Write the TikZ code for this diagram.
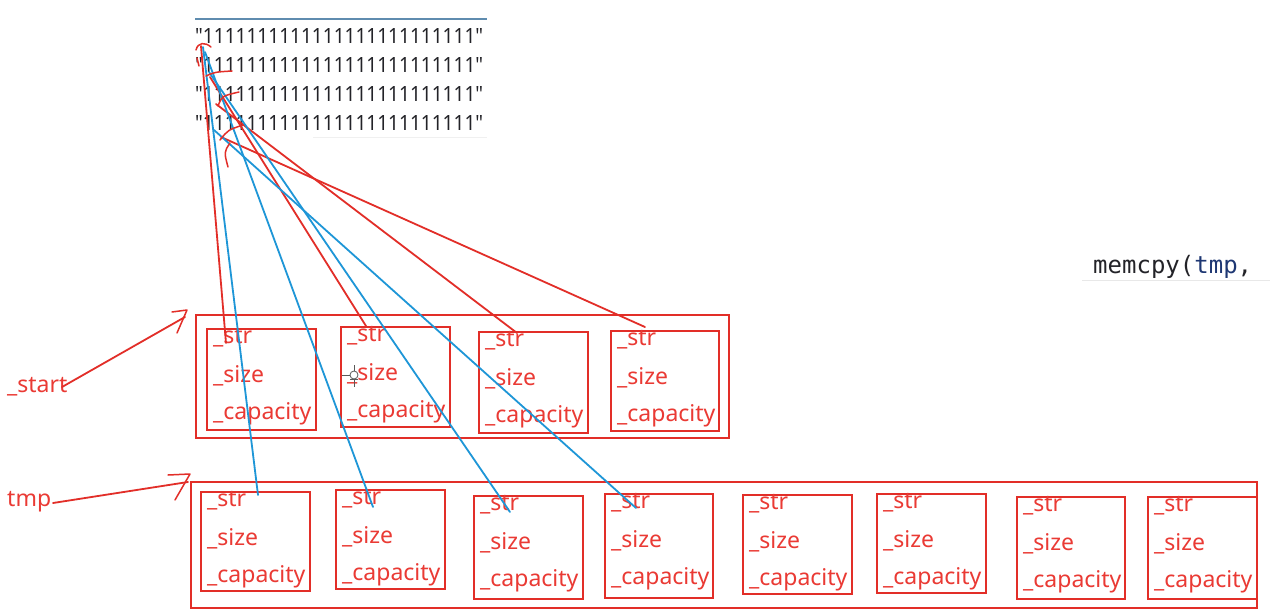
\documentclass[tikz,border=0pt]{standalone}
\usepackage{fontspec}
\usepackage{graphicx}
\setmainfont{Noto Sans}
\newfontfamily\strfont[Ligatures=TeXOff]{Noto Sans}
\newfontfamily\codefont{DejaVu Sans Mono}
\definecolor{redline}{RGB}{226,46,40}
\definecolor{redtext}{RGB}{234,58,52}
\definecolor{blueline}{RGB}{30,150,215}
\definecolor{topline}{RGB}{95,140,175}
\definecolor{codeblue}{RGB}{30,55,115}
\definecolor{strtext}{RGB}{35,35,40}
\newcommand\fieldbox[5]{%
  \node[fbox, minimum width=#4pt, minimum height=#5pt] (#1) at (#2,#3) {};
  \node[field] (#1s) at (#2+7,#3+15) {\_str};
  \node[field] (#1z) at (#2+7,#3+54) {\_size};
  \node[field] (#1c) at (#2+7,#3+91) {\_capacity};
}
\newcommand\onesline{{\strfont "1111111111111111111111111"}}
\begin{document}
\begin{tikzpicture}[x=1pt,y=-1pt,
  fbox/.style={draw=redline, line width=2.2pt, inner sep=0pt, anchor=north west},
  outer/.style={draw=redline, line width=2.2pt, inner sep=0pt, anchor=north west},
  field/.style={text=redtext, font=\fontsize{23}{23}\selectfont, anchor=base west, inner sep=0pt},
  lbl/.style={text=redtext, font=\fontsize{23}{23}\selectfont, anchor=base west, inner sep=0pt},
  strnode/.style={text=strtext, anchor=base west, inner sep=0pt},
  redl/.style={draw=redline, line width=1.8pt, line cap=round},
  bluel/.style={draw=blueline, line width=1.8pt, line cap=round},
  hook/.style={draw=redline, line width=1.5pt, line cap=round, line join=round}]
\fill[white] (0,0) rectangle (1270,615);
\useasboundingbox (0,0) rectangle (1270,615);

% top strings
\draw[topline, line width=2pt] (195,19) -- (487,19);
\node[strnode] (s1) at (195,44) {\resizebox{288pt}{15pt}{\onesline}};
\node[strnode] (s2) at (195,73) {\resizebox{288pt}{15pt}{\onesline}};
\node[strnode] (s3) at (195,102) {\resizebox{288pt}{15pt}{\onesline}};
\node[strnode] (s4) at (195,131) {\resizebox{288pt}{15pt}{\onesline}};
\draw[gray!12, line width=1pt] (313,138) -- (487,138);

% memcpy
\draw[gray!18, line width=1pt] (1082,280) -- (1270,280);
\node[anchor=base west, inner sep=0pt, text=strtext, font=\codefont\fontsize{24}{24}\selectfont] (mc) at (1093,273) {memcpy(\textcolor{codeblue}{tmp},};

% _start container
\node[outer, minimum width=533pt, minimum height=123pt] (startbox) at (195,314) {};
\fieldbox{a1}{206}{328}{109}{101}
\fieldbox{a2}{340}{326}{109}{100}
\fieldbox{a3}{478}{331}{109}{101}
\fieldbox{a4}{610}{330}{108}{100}

% tmp container
\node[outer, minimum width=1066pt, minimum height=126pt] (tmpbox) at (190,481) {};
\fieldbox{t1}{200}{491}{109}{99}
\fieldbox{t2}{335}{489}{109}{99}
\fieldbox{t3}{473}{495}{109}{103}
\fieldbox{t4}{604}{493}{108}{104}
\fieldbox{t5}{742}{494}{109}{99}
\fieldbox{t6}{876}{493}{109}{99}
\fieldbox{t7}{1016}{496}{108}{102}
\fieldbox{t8}{1147}{496}{109}{102}

% labels
\node[lbl] (lstart) at (7,392) {\_start};
\node[lbl] (ltmp) at (7,506) {tmp};
\coordinate (lstartend) at (62,387);
\coordinate (ltmpend) at (53,503);
\coordinate (startarr) at (185,317);
\coordinate (tmparr) at (188,482);
\draw[redl] (lstartend) -- (startarr);
\draw[hook] (172,312) -- (187,310) -- (177,333);
\draw[redl] (ltmpend) -- (tmparr);
\draw[hook] (168,475) -- (190,474) -- (175,500);

% cursor
\node[circle, draw=gray!70!black, line width=0.8pt, minimum size=8pt, inner sep=0pt] (cur) at (354,375) {};
\draw[gray!70!black, line width=0.8pt] (cur.west) -- +(-8,0);
\draw[gray!70!black, line width=0.8pt] (cur.north) -- +(0,-6);
\draw[gray!70!black, line width=0.8pt] (cur.south) -- +(0,8) ++(-4,0) -- +(8,0);

% line origins and ends
\coordinate (r1o) at (201,46);
\coordinate (r2o) at (210,77);
\coordinate (r3o) at (216,104);
\coordinate (r4o) at (221,137);
\coordinate (b1o) at (203,47);
\coordinate (b2o) at (205,52);
\coordinate (b3o) at (209,72);
\coordinate (b4o) at (214,130);
\coordinate (r1e) at (226,343);
\coordinate (r2e) at (366,326);
\coordinate (r3e) at (517,333);
\coordinate (r4e) at (645,327);
\coordinate (b1e) at (258,495);
\coordinate (b2e) at (373,507);
\coordinate (b3e) at (510,512);
\coordinate (b4e) at (636,508);

\draw[redl] (r1o) -- (r1e);
\draw[redl] (r2o) -- (r2e);
\draw[redl] (r3o) -- (r3e);
\draw[redl] (r4o) -- (r4e);
\draw[bluel] (b1o) -- (b1e);
\draw[bluel] (b2o) -- (b2e);
\draw[bluel] (b3o) -- (b3e);
\draw[bluel] (b4o) -- (b4e);

% hand-drawn hooks at the strings
\draw[hook] (196,50) .. controls (198,42) and (205,42) .. (211,47);
\draw[hook] (197,58) -- (199,66);
\draw[hook] (206,76) .. controls (215,72) .. (232,71);
\draw[hook] (218,106) .. controls (222,96) .. (239,92);
\draw[hook] (220,140) .. controls (228,130) .. (243,125);
\draw[hook] (230,143) .. controls (224,152) .. (228,167);
\end{tikzpicture}
\end{document}
